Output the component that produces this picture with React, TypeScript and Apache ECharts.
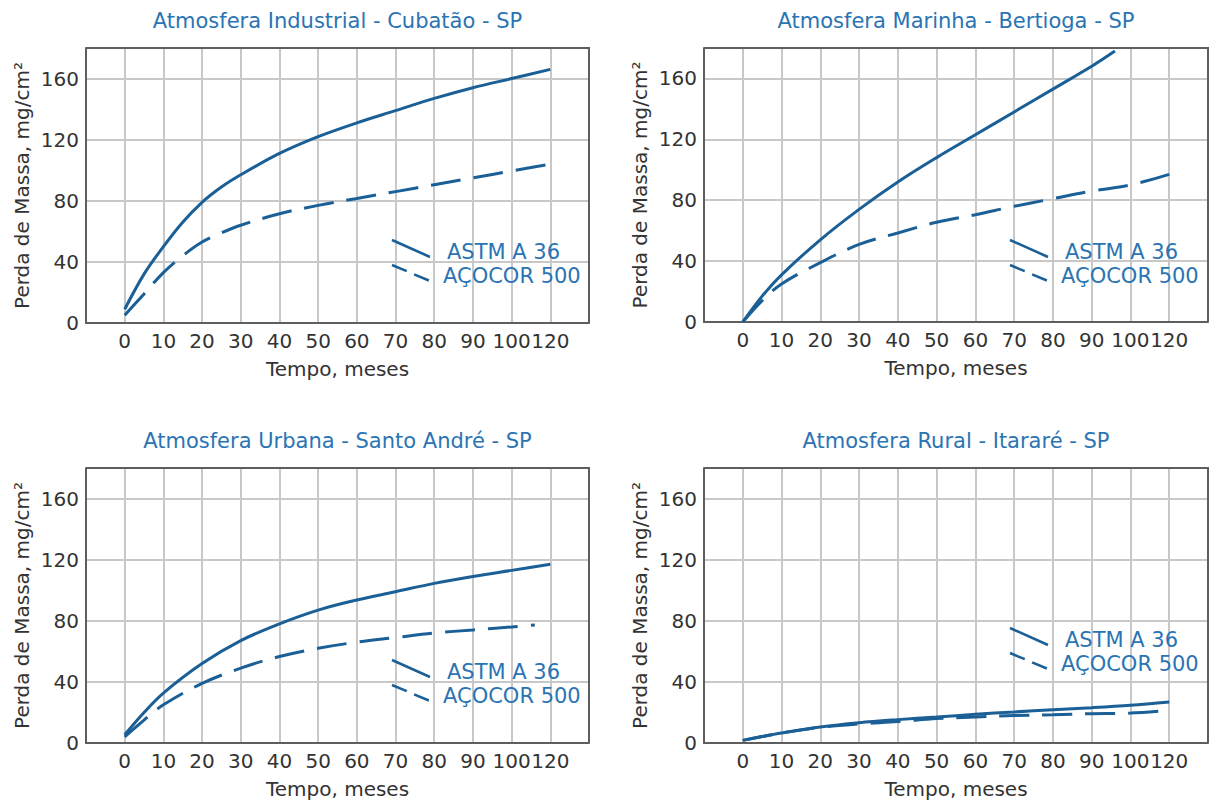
import React, { useEffect, useRef } from "react";
import * as echarts from "echarts";

// x positions on the grid (tick label "120" sits at grid position 110)
const xTickLabels = ["0", "10", "20", "30", "40", "50", "60", "70", "80", "90", "100", "120"];
const yTicks = [0, 40, 80, 120, 160];

const titles = [
  "Atmosfera Industrial - Cubatão - SP",
  "Atmosfera Marinha - Bertioga - SP",
  "Atmosfera Urbana - Santo André - SP",
  "Atmosfera Rural - Itararé - SP",
];
const seriesNames = ["ASTM A 36", "AÇOCOR 500"];

const stdX = [0, 5, 10, 20, 30, 40, 50, 60, 70, 80, 90, 100, 110];
const fineX = [0, 5, 10, 15, 20, 25, 30, 40, 50, 60, 70, 80, 90, 100, 110];

const industrialAstmY = [9, 32, 50, 66, 79, 89, 97, 111, 122, 131, 139, 147, 154, 160, 166];
const industrialAcocorY = [5, 19, 33, 44, 53, 59, 64, 71.5, 77, 81.5, 86, 90.5, 95, 99.5, 104];

const marinhaAstmX = [0, 5, 10, 20, 30, 40, 50, 60, 70, 80, 90, 96];
const marinhaAstmY = [0, 17, 31, 54, 74, 92, 108, 123, 138, 153, 168, 178];
const marinhaAcocorY = [0, 14, 25, 39, 51, 58.5, 65.5, 70.5, 76, 81, 86, 90, 97];

const urbanaAstmY = [5.4, 20, 32.7, 52, 67, 78, 87, 93.6, 99, 104.5, 109, 113, 117];
const urbanaAcocorX = [0, 5, 10, 20, 30, 40, 50, 60, 70, 80, 90, 100, 106];
const urbanaAcocorY = [4, 15, 25, 39, 49, 56.6, 62, 66, 69, 72, 74, 76, 77.3];

const ruralAstmY = [1.7, 4.2, 6.5, 10.5, 13.3, 15.3, 17, 18.8, 20.3, 21.8, 23.1, 24.7, 26.9];
const ruralAcocorY = [1.7, 4.2, 6.5, 10.3, 12.5, 14, 16, 17, 18, 18.5, 19.2, 19.6, 21.4];

const panelSeries = [
  [[fineX, industrialAstmY], [fineX, industrialAcocorY]],
  [[marinhaAstmX, marinhaAstmY], [stdX, marinhaAcocorY]],
  [[stdX, urbanaAstmY], [urbanaAcocorX, urbanaAcocorY]],
  [[stdX, ruralAstmY], [stdX, ruralAcocorY]],
];

const zip = (xs: number[], ys: number[]) => xs.map((x, i) => [x, ys[i]]);

const FONT = "'DejaVu Sans', Verdana, sans-serif";
const LINE = "#1b5f97";
const BLUE = "#2b74b4";
const TXT = "#333333";
const BORDER = "#5e5e5e";
const GRIDC = "#c8c8c8";

// grid boxes (pixels)
const grids = [
  { left: 86, top: 48, width: 503, height: 275, legendDy: 0 },
  { left: 704, top: 48, width: 504, height: 274, legendDy: 0 },
  { left: 86, top: 468, width: 503, height: 275, legendDy: 0 },
  { left: 704, top: 468, width: 504, height: 275, legendDy: -32 },
];

export default function App() {
  const ref = useRef<HTMLDivElement>(null);
  useEffect(() => {
    document.body.style.margin = "0";
    const chart = echarts.init(ref.current!, null, { renderer: "svg" });

    const title: any[] = [];
    const grid: any[] = [];
    const xAxis: any[] = [];
    const yAxis: any[] = [];
    const series: any[] = [];
    const graphic: any[] = [];

    grids.forEach((g, i) => {
      title.push({
        text: titles[i],
        left: g.left + g.width / 2,
        top: g.top - 38,
        textAlign: "center",
        padding: 0,
        textStyle: { fontFamily: FONT, fontSize: 21, fontWeight: "normal", color: BLUE, lineHeight: 22 },
      });
      grid.push({
        left: g.left,
        top: g.top,
        width: g.width,
        height: g.height,
        show: false,
      });
      xAxis.push({
        type: "value",
        gridIndex: i,
        min: -10,
        max: 120,
        interval: 10,
        axisLine: { show: true, onZero: false, lineStyle: { color: BORDER, width: 2 } },
        axisTick: { show: false },
        splitLine: { show: true, showMinLine: false, showMaxLine: false, lineStyle: { color: GRIDC, width: 2 } },
        axisLabel: {
          margin: 8,
          fontFamily: FONT,
          fontSize: 20,
          color: TXT,
          formatter: (v: number) => {
            const k = Math.round(v / 10);
            return v >= 0 && k < xTickLabels.length ? xTickLabels[k] : "";
          },
        },
        name: "Tempo, meses",
        nameLocation: "middle",
        nameGap: 36,
        nameTextStyle: { fontFamily: FONT, fontSize: 20, color: TXT },
      });
      yAxis.push({
        type: "value",
        gridIndex: i,
        min: 0,
        max: 180,
        interval: 40,
        axisLine: { show: true, onZero: false, lineStyle: { color: BORDER, width: 2 } },
        axisTick: { show: false },
        splitLine: { show: true, showMinLine: false, showMaxLine: false, lineStyle: { color: GRIDC, width: 2 } },
        axisLabel: {
          margin: 7,
          fontFamily: FONT,
          fontSize: 20,
          color: TXT,
          formatter: (v: number) => (yTicks.indexOf(v) >= 0 ? String(v) : ""),
        },
        name: "Perda de Massa, mg/cm²",
        nameLocation: "middle",
        nameGap: 54,
        nameTextStyle: { fontFamily: FONT, fontSize: 20, color: TXT },
      });
      const [astm, acocor] = panelSeries[i];
      series.push({
        type: "line",
        name: seriesNames[0],
        xAxisIndex: i,
        yAxisIndex: i,
        data: zip(astm[0], astm[1]),
        smooth: 0.35,
        symbol: "none",
        lineStyle: { color: LINE, width: 3 },
        z: 5,
      });
      series.push({
        type: "line",
        name: seriesNames[1],
        xAxisIndex: i,
        yAxisIndex: i,
        data: zip(acocor[0], acocor[1]),
        smooth: 0.35,
        symbol: "none",
        lineStyle: { color: LINE, width: 3, type: [30, 13] },
        z: 4,
      });

      const ox = g.left;
      const oy = g.top + g.legendDy;
      // top and right frame edges
      graphic.push({
        type: "polyline",
        shape: { points: [[g.left, g.top], [g.left + g.width, g.top], [g.left + g.width, g.top + g.height]] },
        style: { stroke: BORDER, lineWidth: 2, fill: null },
        z: 3,
      });
      graphic.push({
        type: "line",
        shape: { x1: ox + 306, y1: oy + 192, x2: ox + 344, y2: oy + 209 },
        style: { stroke: LINE, lineWidth: 2.5 },
        z: 10,
      });
      graphic.push({
        type: "line",
        shape: { x1: ox + 306, y1: oy + 217, x2: ox + 344, y2: oy + 233 },
        style: { stroke: LINE, lineWidth: 2.5, lineDash: [16, 8] },
        z: 10,
      });
      graphic.push({
        type: "text",
        x: ox + 361,
        y: oy + 204,
        style: { text: seriesNames[0], font: `21px ${FONT}`, fill: BLUE, textVerticalAlign: "middle", verticalAlign: "middle" },
        z: 10,
      });
      graphic.push({
        type: "text",
        x: ox + 357,
        y: oy + 228,
        style: { text: seriesNames[1], font: `21px ${FONT}`, fill: BLUE, textVerticalAlign: "middle", verticalAlign: "middle" },
        z: 10,
      });
    });

    chart.setOption({
      animation: false,
      backgroundColor: "#ffffff",
      title,
      grid,
      xAxis,
      yAxis,
      series,
      graphic,
    });
    return () => chart.dispose();
  }, []);
  return <div ref={ref} style={{ width: 1211, height: 807 }} />;
}
